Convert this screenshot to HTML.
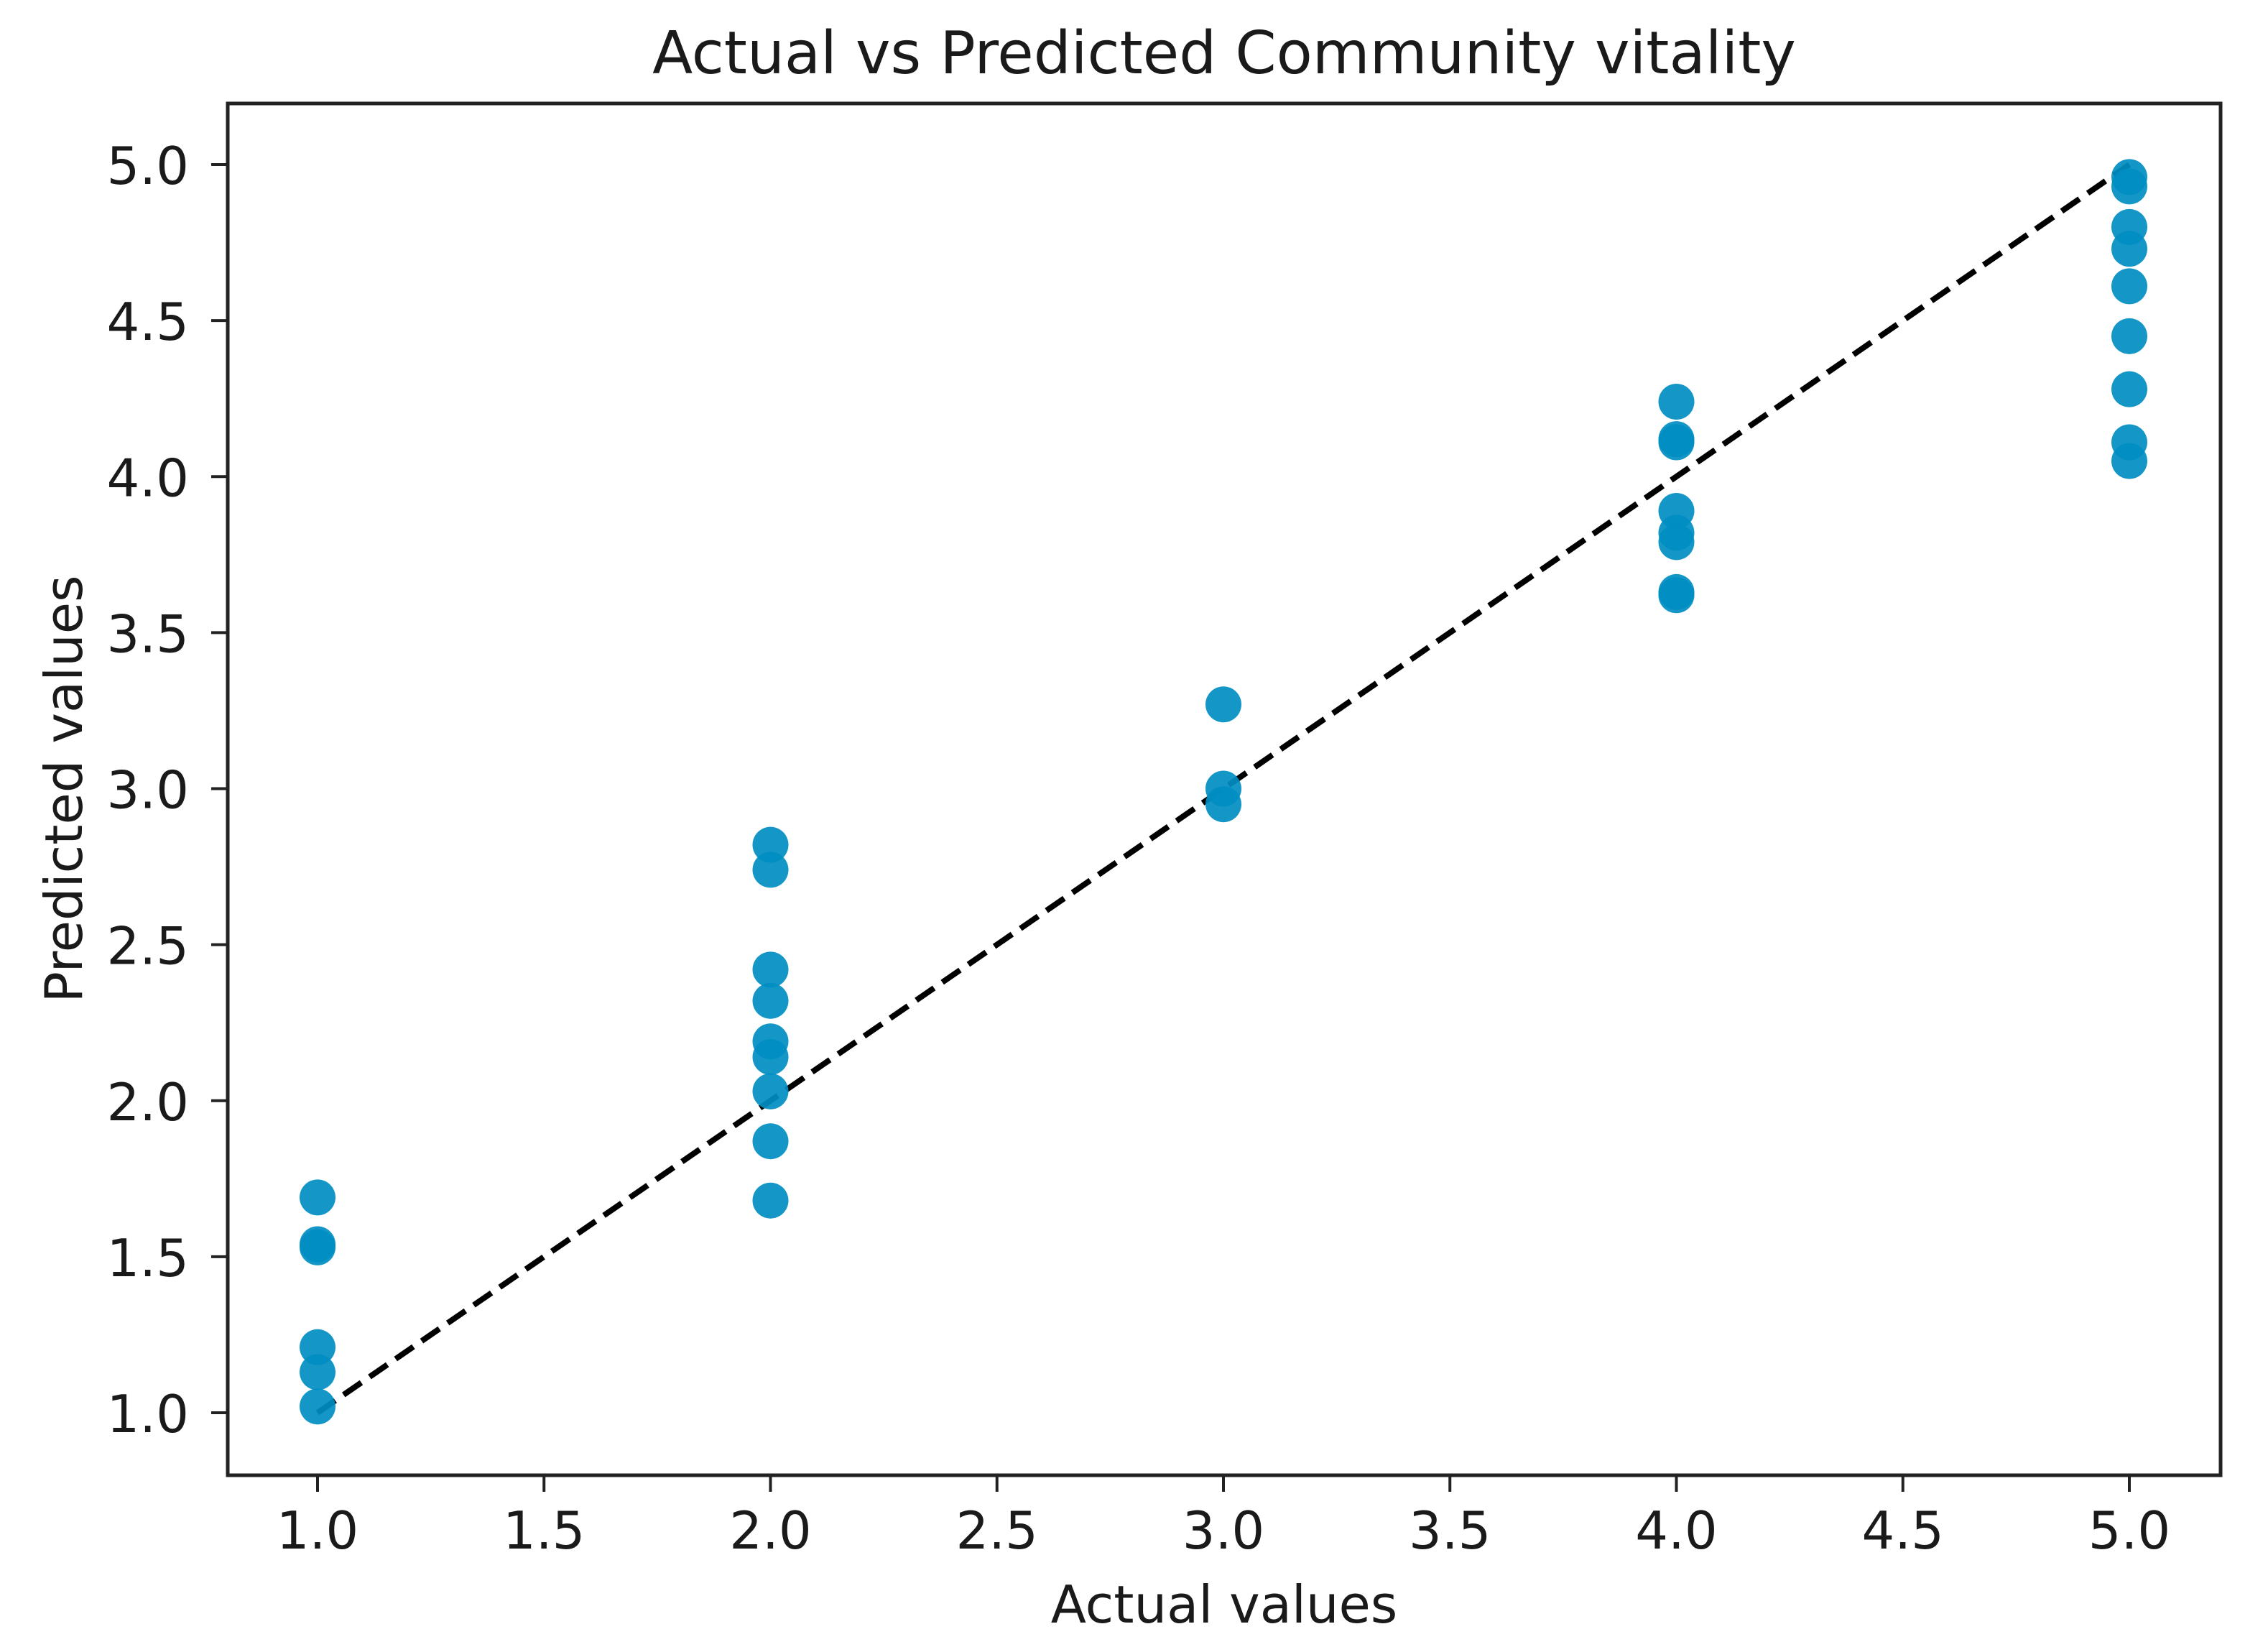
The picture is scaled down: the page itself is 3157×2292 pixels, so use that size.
<!DOCTYPE html>
<html><head><meta charset="utf-8"><style>
html,body{margin:0;padding:0;background:#fff;}
svg{display:block;}
text{font-family:"DejaVu Sans","Liberation Sans",sans-serif;fill:#1a1a1a;}
</style></head><body>
<svg id="chart" width="3157" height="2292" viewBox="0 0 3157 2292" xmlns="http://www.w3.org/2000/svg">
<rect width="3157" height="2292" fill="#fff"/>
<text x="1704" y="102" font-size="82" text-anchor="middle">Actual vs Predicted Community vitality</text>
<g id="ticks"></g>
<g id="refline"></g>
<g id="points"></g>
<rect x="317" y="144" width="2774" height="1909" fill="none" stroke="#222" stroke-width="5"/>
<text x="1704" y="2258" font-size="72" text-anchor="middle">Actual values</text>
<text x="0" y="0" font-size="72" text-anchor="middle" transform="translate(114,1098) rotate(-90)">Predicted values</text>
</svg>
<script>
const actualX = [1,1,1,1,1,1, 2,2,2,2,2,2,2,2,2, 3,3,3, 4,4,4,4,4,4,4,4, 5,5,5,5,5,5,5,5,5];
const predictedY = [1.69,1.54,1.53,1.21,1.13,1.02, 2.82,2.74,2.42,2.32,2.19,2.14,2.03,1.87,1.68, 3.27,3.00,2.95, 4.24,4.12,4.11,3.89,3.82,3.79,3.63,3.62, 4.96,4.93,4.80,4.73,4.61,4.45,4.28,4.11,4.05];
const xTicks = [1.0,1.5,2.0,2.5,3.0,3.5,4.0,4.5,5.0];
const yTicks = [1.0,1.5,2.0,2.5,3.0,3.5,4.0,4.5,5.0];
const refLine = [1,5];

const NS='http://www.w3.org/2000/svg';
function xs(v){return 442+(v-1)*630.5;}
function ys(v){return 1966-(v-1)*434.25;}
function mk(tag,attrs,parent){const e=document.createElementNS(NS,tag);for(const k in attrs)e.setAttribute(k,attrs[k]);parent.appendChild(e);return e;}

const tg=document.getElementById('ticks');
xTicks.forEach(t=>{
  const l=mk('line',{x1:xs(t),x2:xs(t),y1:2053,y2:2076,stroke:'#222','stroke-width':4},tg);
  
  
  const tx=mk('text',{x:xs(t),y:2155,'font-size':72,'text-anchor':'middle'},tg);
  tx.textContent=t.toFixed(1);
  
  
});
yTicks.forEach(t=>{
  const l=mk('line',{x1:294,x2:317,y1:ys(t),y2:ys(t),stroke:'#222','stroke-width':4},tg);
  
  
  const tx=mk('text',{x:263,y:ys(t)+27,'font-size':72,'text-anchor':'end'},tg);
  tx.textContent=t.toFixed(1);
  
  
});

const pg=document.getElementById('points');
actualX.forEach((x,i)=>{
  const c=mk('circle',{cx:xs(x),cy:ys(predictedY[i]),r:25,fill:'#008dc2','fill-opacity':0.92},pg);
  
  
});

const rl=mk('line',{x1:xs(refLine[0]),y1:ys(refLine[0]),x2:xs(refLine[1]),y2:ys(refLine[1]),stroke:'#000','stroke-width':8,'stroke-dasharray':'30 14'},document.getElementById('refline'));


</script>
</body></html>
